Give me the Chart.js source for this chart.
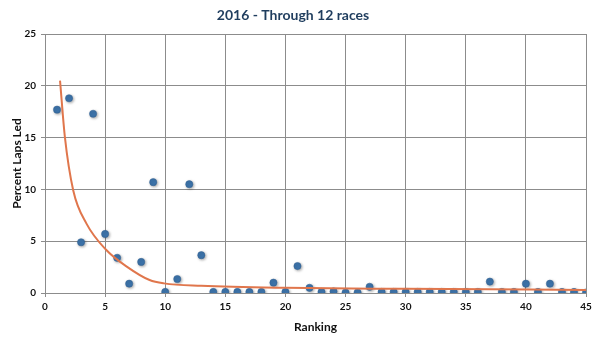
<!DOCTYPE html>
<html>
<head>
<meta charset="utf-8">
<script src="https://cdn.jsdelivr.net/npm/chart.js@4/dist/chart.umd.min.js"></script>
<style>
  html, body { margin: 0; padding: 0; background: #fff; }
</style>
</head>
<body>
<canvas id="myChart" width="600" height="338"></canvas>
<script>
// rank of each driver and the share of laps led
const ranks = [1,2,3,4,5,6,7,8,9,10,11,12,13,14,15,16,17,18,19,20,21,22,23,24,25,26,27,28,29,30,31,32,33,34,35,36,37,38,39,40,41,42,43,44,45];
const lapsLed = [17.7,18.8,4.9,17.3,5.7,3.4,0.9,3.0,10.7,0.1,1.35,10.5,3.65,0.1,0.1,0.1,0.1,0.1,1.0,0.1,2.6,0.5,0.1,0.15,0.05,0.05,0.6,0.1,0.1,0.1,0.1,0.1,0.1,0.1,0.1,0.1,1.1,0.1,0.1,0.9,0.1,0.9,0.1,0.1,0.05];

// trend line
const trendX = [1.25,1.65,2.35,3.45,5.1,6.8,8.7,9.9,13,20,30,45];
const trendY = [20.5,15.1,9.9,6.7,4.15,2.55,1.25,0.93,0.7,0.5,0.4,0.3];

const xTicks = [0,5,10,15,20,25,30,35,40,45];
const yTicks = [0,5,10,15,20,25];

const font = "Lato, 'Open Sans', sans-serif";
const gridColor = "#8c8c8c";

const shadow = {
  id: "shadow",
  beforeDatasetDraw(chart, args) {
    if (args.index !== 0) return;
    const ctx = chart.ctx;
    ctx.save();
    ctx.shadowColor = "rgba(0,0,0,0.35)";
    ctx.shadowBlur = 3;
    ctx.shadowOffsetX = 1;
    ctx.shadowOffsetY = 1;
  },
  afterDatasetDraw(chart, args) {
    if (args.index !== 0) return;
    chart.ctx.restore();
  }
};

new Chart(document.getElementById("myChart"), {
  type: "scatter",
  data: {
    datasets: [
      {
        label: "Percent Laps Led",
        data: ranks.map((r, i) => ({ x: r, y: lapsLed[i] })),
        backgroundColor: "#3d74ab",
        borderColor: "#2f5f90",
        borderWidth: 0.5,
        pointRadius: 3.6,
        order: 1
      },
      {
        type: "line",
        label: "Trend",
        data: trendX.map((x, i) => ({ x: x, y: trendY[i] })),
        borderColor: "#e0764c",
        borderWidth: 2,
        pointRadius: 0,
        fill: false,
        cubicInterpolationMode: "monotone",
        order: 0
      }
    ]
  },
  options: {
    responsive: false,
    animation: false,
    layout: { padding: { left: 0, right: 14, top: 0, bottom: 0 } },
    plugins: {
      legend: { display: false },
      tooltip: { enabled: false },
      title: {
        display: true,
        text: "2016 - Through 12 races",
        color: "#1f3d5e",
        font: { family: font, size: 14, weight: "bold" },
        padding: { top: 7, bottom: 10.2 }
      }
    },
    scales: {
      x: {
        type: "linear",
        min: 0, max: 45,
        afterBuildTicks: s => { s.ticks = xTicks.map(v => ({ value: v })); },
        afterFit: s => { s.height = 45; },
        grid: { color: gridColor, tickLength: 4, lineWidth: 1 },
        border: { color: gridColor },
        ticks: { color: "#111", padding: 4, font: { family: font, size: 10, weight: "bold" } },
        title: {
          display: true,
          text: "Ranking",
          color: "#111",
          font: { family: font, size: 12, weight: "bold" },
          padding: { top: 2 }
        }
      },
      y: {
        min: 0, max: 25,
        afterBuildTicks: s => { s.ticks = yTicks.map(v => ({ value: v })); },
        afterFit: s => { s.width = 45; },
        grid: { color: gridColor, tickLength: 4, lineWidth: 1 },
        border: { color: gridColor },
        ticks: { color: "#111", padding: 5, font: { family: font, size: 10, weight: "bold" } },
        title: {
          display: true,
          text: "Percent Laps Led",
          color: "#111",
          font: { family: font, size: 12, weight: "bold" },
          padding: { top: 10, bottom: 0 }
        }
      }
    }
  },
  plugins: [shadow]
});
</script>
</body>
</html>
